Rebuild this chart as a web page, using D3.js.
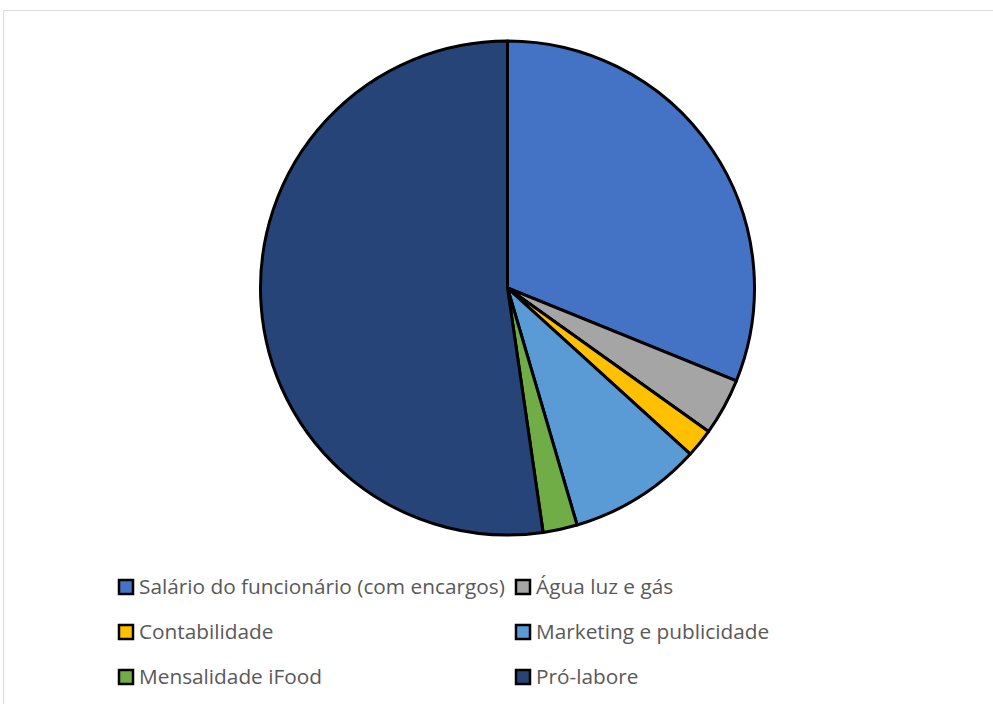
<!DOCTYPE html>
<html><head><meta charset="utf-8">
<script src="https://cdn.jsdelivr.net/npm/d3@7/dist/d3.min.js"></script>
<style>body{margin:0;background:#fff}svg{display:block}</style>
</head><body>
<script>
const categories = ["Salário do funcionário (com encargos)","Água luz e gás","Contabilidade","Marketing e publicidade","Mensalidade iFood","Pró-labore"];
const values = [2500, 300, 150, 700, 180, 4200];
const colors = ["#4472C4","#A5A5A5","#FFC000","#5B9BD5","#70AD47","#264478"];

const W=993,H=704;
const svg=d3.select("body").append("svg").attr("width",W).attr("height",H);
svg.append("rect").attr("x",3.5).attr("y",10.5).attr("width",W+10).attr("height",H+10)
  .attr("fill","#fff").attr("stroke","#d9d9d9").attr("stroke-width",1);

const cx=507.5, cy=288, r=247;
const pie=d3.pie().sort(null).value(d=>d.v);
const arcs=pie(categories.map((c,i)=>({c,v:values[i],col:colors[i]})));
const arc=d3.arc().innerRadius(0).outerRadius(r);
svg.append("g").attr("transform",`translate(${cx},${cy})`)
  .selectAll("path").data(arcs).join("path")
  .attr("d",arc).attr("fill",d=>d.data.col)
  .attr("stroke","#000").attr("stroke-width",3).attr("stroke-linejoin","round");

const legX=[118,515], legY=[587,632,677];
const lg=svg.append("g");
categories.forEach((c,i)=>{
  const x=legX[i%2], y=legY[Math.floor(i/2)];
  lg.append("rect").attr("x",x+1).attr("y",y-7).attr("width",14).attr("height",14)
    .attr("fill",colors[i]).attr("stroke","#000").attr("stroke-width",2.5);
  lg.append("text").attr("x",x+21).attr("y",y).attr("dy","0.35em")
    .attr("font-family","Open Sans, sans-serif").attr("font-size",20.8)
    .attr("fill","#595959").text(c);
});
</script>
</body></html>
